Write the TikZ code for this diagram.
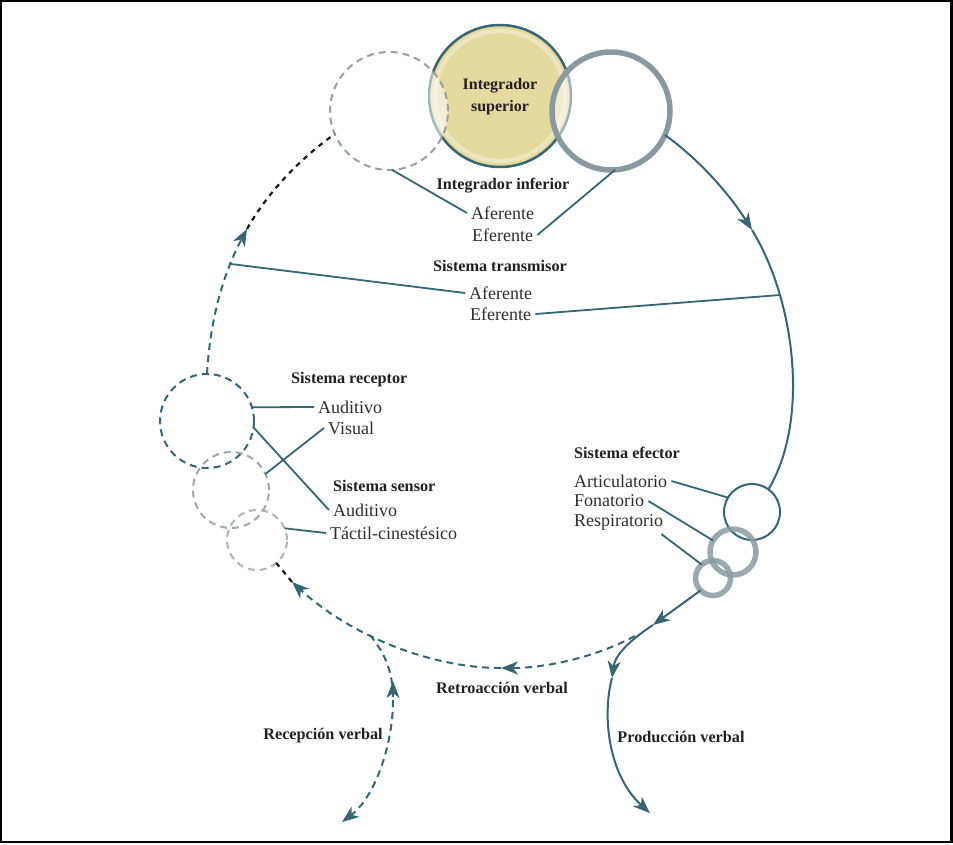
\documentclass[tikz,border=0pt]{standalone}
\usepackage{fontspec}
\setmainfont{Liberation Serif}
\usetikzlibrary{arrows.meta}
\definecolor{tealc}{RGB}{55,101,113}
\definecolor{ringgray}{RGB}{138,153,160}
\definecolor{dashgray}{RGB}{150,160,165}
\definecolor{lightgrayc}{RGB}{160,166,169}
\definecolor{goldc}{RGB}{229,218,158}
\definecolor{ink}{RGB}{35,31,32}
\definecolor{txt}{RGB}{45,45,45}
\begin{document}
\begin{tikzpicture}[x=1pt,y=-1pt,
  circ/.style={circle,inner sep=0pt,outer sep=0pt},
  lbl/.style={font=\fontsize{18}{20}\selectfont,text=txt,inner sep=4pt,anchor=west},
  ttl/.style={font=\bfseries\fontsize{16.2}{18}\selectfont,text=ink,inner sep=4pt},
  conn/.style={tealc,line width=1.8pt},
  tealdash/.style={tealc,line width=2pt,dash pattern=on 7pt off 5pt},
  blackdash/.style={black!90,line width=2.2pt,dash pattern=on 5pt off 5pt},
  graydash/.style={line width=2pt,dash pattern=on 7pt off 5pt},
  tip/.style={-{Stealth[length=17pt,width=13pt,inset=5pt]}},
  solidline/.style={tealc,line width=2pt}
]
\useasboundingbox (0,0) rectangle (953,844);
\draw[line width=2.4pt] (1.2,1.2) rectangle (951.6,841.8);

% top circles
\node[circ,fill=goldc,draw=tealc,line width=2.5pt,minimum size=142pt] (sup) at (500,96) {};
\node[circ,draw=white,draw opacity=0.35,line width=4pt,minimum size=130pt] (suphl) at (500,96) {};
\node[circ,draw=dashgray,graydash,fill=white,fill opacity=0.55,minimum size=118pt] (ldash) at (389,111) {};
\node[circ,draw=ringgray,line width=5.5pt,fill=white,fill opacity=0.5,minimum size=118pt] (rring) at (611,111) {};
\node[align=center,font=\bfseries\fontsize{16}{22}\selectfont,text=ink] (supt) at (500,97) {Integrador\\superior};

% left circles
\node[circ,draw=tealc,graydash,minimum size=94pt] (rec) at (207,421) {};
\node[circ,draw=lightgrayc,graydash,minimum size=76pt] (sens1) at (231,490) {};
\node[circ,draw=lightgrayc!85,graydash,minimum size=60pt] (sens2) at (257,540) {};

% right circles
\node[circ,draw=tealc,line width=2pt,minimum size=56pt] (artc) at (752,512) {};
\node[circ,draw=ringgray,line width=5.5pt,draw opacity=0.85,minimum size=46pt] (fonc) at (733,552) {};
\node[circ,draw=ringgray,line width=5.5pt,draw opacity=0.85,minimum size=35pt] (respc) at (713,578) {};

% labels
\node[ttl] (ii) at (503,186) {Integrador inferior};
\node[lbl] (af1) at (467,213) {Aferente};
\node[lbl] (ef1) at (468,235) {Eferente};
\node[ttl] (st) at (500,266) {Sistema transmisor};
\node[lbl] (af2) at (465,293) {Aferente};
\node[lbl] (ef2) at (466,314) {Eferente};

\node[ttl,anchor=west] (sr) at (287,380) {Sistema receptor};
\node[lbl] (aud1) at (314,407) {Auditivo};
\node[lbl] (vis) at (324,428) {Visual};
\node[ttl,anchor=west] (ss) at (329,486) {Sistema sensor};
\node[lbl] (aud2) at (329,510) {Auditivo};
\node[lbl] (tac) at (326,533) {Táctil-cinestésico};

\node[ttl,anchor=west] (se) at (570,453) {Sistema efector};
\node[lbl] (art) at (570,481) {Articulatorio};
\node[lbl] (fon) at (570,501) {Fonatorio};
\node[lbl] (res) at (570,522) {Respiratorio};

\node[ttl] (rv) at (502,688) {Retroacción verbal};
\node[ttl] (rcv) at (323,736) {Recepción verbal};
\node[ttl] (pv) at (681,737) {Producción verbal};

% coordinates
\coordinate (T1) at (231,264);
\coordinate (T2) at (780,295);
\coordinate (L1) at (247,229);
\coordinate (R1) at (752,230);
\coordinate (P1) at (653,625);
\coordinate (P2) at (612,678);
\coordinate (P3) at (650,813);
\coordinate (R0) at (635,636);
\coordinate (M1) at (501,668);
\coordinate (E1) at (292,582);
\coordinate (J) at (370,635);
\coordinate (Q) at (393,700);
\coordinate (Qt) at (393,681);
\coordinate (B) at (342,822);

% label connectors
\draw[conn] (ldash.-87) -- (af1.west);
\draw[conn] (rring.-86) -- (ef1.east);
\draw[conn] (T1) -- (af2.west);
\draw[conn] (ef2.east) -- (T2);
\draw[conn] (rec.17) -- (aud1.west);
\draw[conn] (sens1.25) -- (vis.west);
\draw[conn] (rec.-8) -- (aud2.west);
\draw[conn] (sens2.23) -- (tac.west);
\draw[conn] (art.east) -- (artc.149);
\draw[conn] (fon.east) -- (fonc.150);
\draw[conn] ([xshift=-6pt]res.south east) -- (respc.130);

% left arc (afferent)
\draw[tealdash,tip] (rec.90) .. controls (210,322) and (222,276) .. (L1);
\draw[blackdash] (L1) .. controls (266,195) and (298,160) .. (ldash.-157);

% right arc (efferent)
\draw[solidline,tip] (rring.-24) .. controls (700,160) and (730,195) .. (R1);
\draw[solidline] (R1) .. controls (795,300) and (810,420) .. (artc.54);

% production
\draw[solidline,tip] (respc.-135) -- (P1);
\draw[solidline,tip] (P1) .. controls (630,640) and (615,655) .. (P2);
\draw[solidline,tip] (P2) .. controls (602,715) and (608,775) .. (P3);

% feedback
\draw[tealdash,tip] (R0) .. controls (590,660) and (540,668) .. (M1);
\draw[tealdash,tip] (M1) .. controls (430,668) and (350,635) .. (E1);
\draw[blackdash] (E1) -- (sens2.-50);

% reception
\draw[tealdash] (J) .. controls (386,655) and (393,672) .. (Q);
\draw[tealdash,tip] (Q) .. controls (393,745) and (375,797) .. (B);
\draw[solidline,tip] (393,697) -- (Qt);
\end{tikzpicture}
\end{document}
